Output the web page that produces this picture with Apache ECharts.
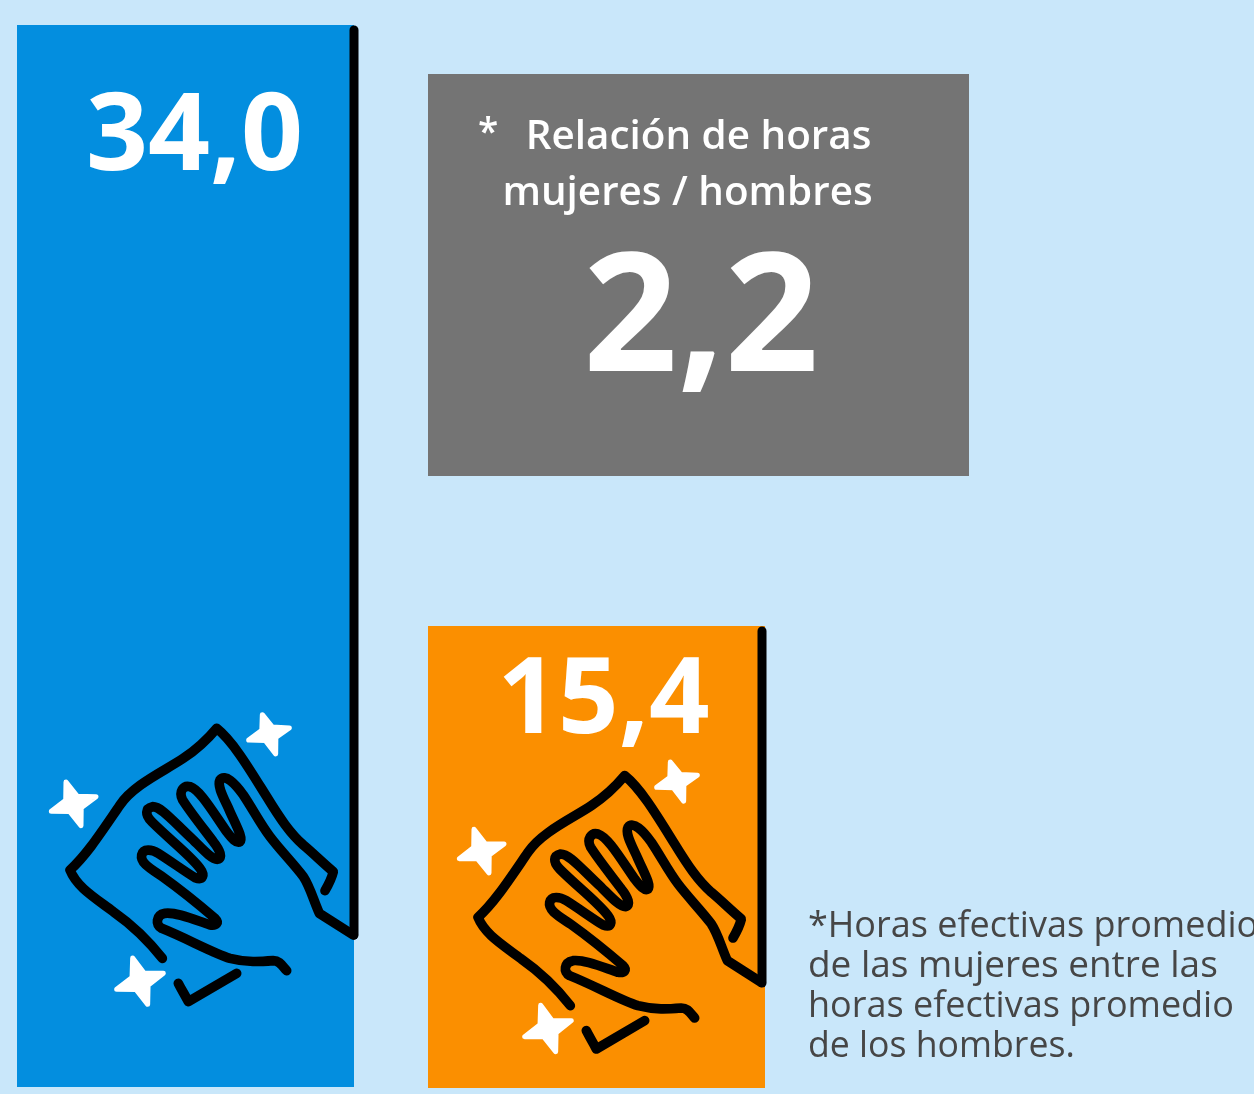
<!DOCTYPE html>
<html><head><meta charset="utf-8">
<style>html,body{margin:0;padding:0;background:#C9E7FA;overflow:hidden}#c{width:1254px;height:1094px}</style>
<script src="https://cdn.jsdelivr.net/npm/echarts@6/dist/echarts.min.js"></script>
</head><body><div id="c"></div>
<script>
const womenCategory = ['Mujeres'];
const menCategory = ['Hombres'];
const womenHours = [34.0];
const menHours = [15.4];
const ratioValue = 2.2;
const ratioLines = ['Relación de horas', 'mujeres / hombres'];
const footnoteLines = ['*Horas efectivas promedio', 'de las mujeres entre las', 'horas efectivas promedio', 'de los hombres.'];
const footnoteStretch = [1, 1.027, 1, 0.99];

const FONT = '"Open Sans"';
const comma = v => v.toFixed(1).replace('.', ',');

/* decorative cleaning-hand icon, in its own local drawing space */
const clothPath = 'M397 775 C350 715 300 670 250 635 C190 590 140 560 120 510 C170 465 215 395 270 315 C310 255 400 215 460 175 C505 145 535 115 560 85 C610 125 660 210 710 290 C750 355 780 400 820 435 C850 460 880 490 910 515 C905 535 895 555 885 572';
const handPath = 'M770 812 C755 795 748 782 730 782 C690 785 650 788 600 775 C550 760 470 715 395 685 C375 675 378 645 405 640 C440 636 490 658 540 675 C560 678 568 668 555 655 C520 625 460 575 400 532 C365 508 330 490 335 465 C340 445 365 448 385 460 C420 482 465 515 495 533 C520 542 525 525 510 505 C480 465 420 420 365 365 C345 345 345 325 368 320 C395 320 430 365 490 420 C520 450 545 478 562 478 C580 475 570 450 550 425 C520 385 480 335 458 300 C445 275 460 255 480 260 C510 270 545 330 590 395 C605 415 620 432 630 425 C640 415 620 380 600 335 C585 300 560 260 570 240 C585 220 615 250 640 285 C670 330 690 370 720 410 C750 450 790 490 820 530 C840 560 850 600 868 640 L970 705';
const tickPath = 'M620 820 L475 905 C465 885 455 870 445 850';

function starPath(c, t) {
  let d = '';
  t.forEach((p, i) => {
    const q = t[(i + 1) % 4];
    const mx = c[0] + ((p[0] + q[0]) / 2 - c[0]) * 0.52;
    const my = c[1] + ((p[1] + q[1]) / 2 - c[1]) * 0.52;
    d += (i ? '' : 'M' + p[0] + ' ' + p[1]) + ' L' + mx + ' ' + my + ' L' + q[0] + ' ' + q[1];
  });
  return d + ' Z';
}
const stars = [
  starPath([130, 312], [[108, 246], [198, 290], [153, 377], [64, 334]]),
  starPath([716, 100], [[697, 44], [778, 84], [737, 162], [656, 120]]),
  starPath([330, 845], [[308, 774], [400, 820], [353, 913], [260, 868]])
];

const lineShapes = [clothPath, handPath, tickPath].map((p, i) => {
  const n = 'iconLine' + i;
  echarts.graphic.registerShape(n, echarts.graphic.extendPath(p));
  return n;
});
const starShapes = stars.map((p, i) => {
  const n = 'iconStar' + i;
  echarts.graphic.registerShape(n, echarts.graphic.extendPath(p));
  return n;
});

function icon(ox, oy) {
  const s = 1 / 3;
  const line = {lineWidth: 29, stroke: '#000', fill: null, lineCap: 'round', lineJoin: 'round'};
  const kids = [];
  lineShapes.forEach(n => kids.push({type: n, z: 20, style: line}));
  starShapes.forEach(n => kids.push({type: n, z: 20, style: {fill: '#fff', stroke: '#fff', lineWidth: 15, lineJoin: 'round'}}));
  return {type: 'group', x: ox, y: oy, scaleX: s, scaleY: s, z: 20, children: kids};
}
function txt(x, y, text, size, weight, color, align, sx) {
  return {type: 'text', z: 30, x, y, scaleX: sx || 1, style: {text, fill: color, font: weight + ' ' + size + 'px ' + FONT, align: align || 'left', verticalAlign: 'middle'}};
}
function vline(x, y1, y2) {
  return {type: 'line', z: 21, shape: {x1: x, y1, x2: x, y2}, style: {stroke: '#000', lineWidth: 9, lineCap: 'round'}};
}

const barLabel = (dx, dy, size) => ({show: true, position: 'insideTop', offset: [dx, dy], formatter: p => comma(p.value), color: '#fff', fontFamily: FONT, fontWeight: 700, fontSize: size});

const chart = echarts.init(document.getElementById('c'), null, {renderer: 'canvas'});
const hiddenAxis = {show: false};
chart.setOption({
  backgroundColor: '#C9E7FA',
  animation: false,
  grid: [
    {left: 17, top: 25, width: 337, height: 1062},
    {left: 428, top: 626, width: 337, height: 462}
  ],
  xAxis: [
    Object.assign({type: 'category', data: womenCategory, gridIndex: 0}, hiddenAxis),
    Object.assign({type: 'category', data: menCategory, gridIndex: 1}, hiddenAxis)
  ],
  yAxis: [
    Object.assign({type: 'value', min: 0, max: 34, gridIndex: 0}, hiddenAxis),
    Object.assign({type: 'value', min: 0, max: 15.4, gridIndex: 1}, hiddenAxis)
  ],
  series: [
    {type: 'bar', xAxisIndex: 0, yAxisIndex: 0, data: womenHours, barWidth: '100%', itemStyle: {color: '#038EDF'}, label: barLabel(9, 55, 108.5)},
    {type: 'bar', xAxisIndex: 1, yAxisIndex: 1, data: menHours, barWidth: '100%', itemStyle: {color: '#FB8F00'}, label: barLabel(7, 19, 106)}
  ],
  graphic: {elements: [
    {type: 'rect', z: 5, shape: {x: 428, y: 74, width: 541, height: 402}, style: {fill: '#747474'}},
    txt(478, 134, '*', 37, 600, '#fff'),
    txt(698.5, 137, ratioLines[0], 40.4, 600, '#fff', 'center'),
    txt(687.5, 193, ratioLines[1], 40.4, 600, '#fff', 'center'),
    txt(701, 324, comma(ratioValue), 165, 700, '#fff', 'center'),
    vline(354, 30, 935),
    vline(762, 631, 983),
    icon(30, 700),
    icon(438, 747.3)
  ].concat(footnoteLines.map((t, i) => txt(808, 927 + i * 40, t, 36, 500, '#464646', 'left', footnoteStretch[i])))}
});
</script></body></html>
